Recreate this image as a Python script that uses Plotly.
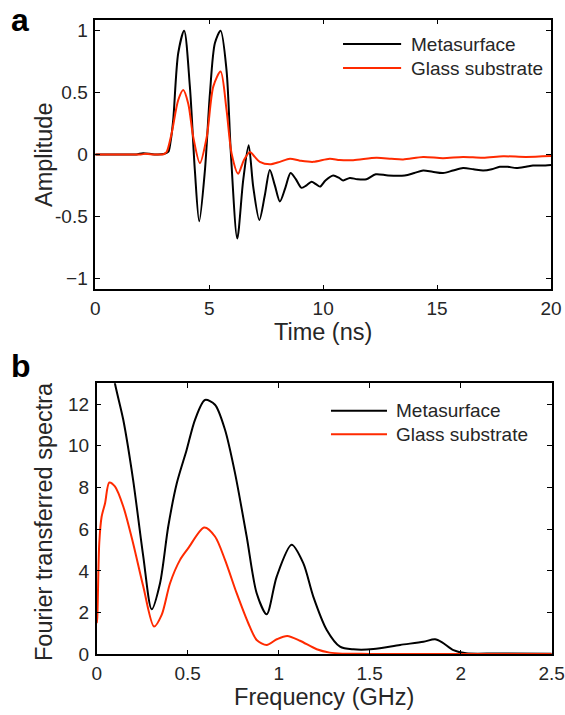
import plotly.graph_objects as go

# ---------------- Panel a: time-domain amplitude ----------------
time_meta = [0, 1.0, 1.8, 2.1, 2.6, 3.0, 3.2, 3.3, 3.42, 3.64, 3.9, 4.15, 4.37, 4.56, 4.81,
             5.03, 5.25, 5.5, 5.76, 5.95, 6.23, 6.49, 6.73, 6.93, 7.2, 7.44, 7.66, 7.88,
             8.1, 8.34, 8.57, 8.8, 9.05, 9.27, 9.49, 9.68, 9.86, 10.1, 10.44, 10.7, 10.88,
             11.17, 11.5, 11.9, 12.31, 12.85, 13.58, 14.0, 14.39, 14.8, 15.26, 15.7, 16.14,
             16.6, 17.02, 17.4, 17.75, 18.1, 18.48, 18.9, 19.21, 19.6, 20.0]
amp_meta = [0, 0, 0.0, 0.01, 0.0, 0.003, 0.02, 0.1, 0.28, 0.82, 1.0, 0.55, -0.13, -0.54, -0.13,
            0.49, 0.9, 1.0, 0.68, 0.01, -0.68, -0.21, 0.075, -0.26, -0.53, -0.33, -0.125, -0.25,
            -0.38, -0.27, -0.15, -0.2, -0.27, -0.25, -0.22, -0.24, -0.26, -0.21, -0.17, -0.19, -0.21,
            -0.19, -0.2, -0.2, -0.16, -0.17, -0.17, -0.15, -0.13, -0.14, -0.15, -0.13, -0.11,
            -0.12, -0.13, -0.12, -0.10, -0.10, -0.11, -0.10, -0.09, -0.09, -0.085]

time_glass = [0, 1.0, 2.0, 2.2, 2.6, 3.0, 3.13, 3.35, 3.64, 3.86, 4.08, 4.3, 4.59, 4.89, 5.18,
              5.5, 5.76, 5.98, 6.27, 6.52, 6.79, 7.0, 7.22, 7.66, 8.1, 8.54, 8.98, 9.56,
              10.29, 10.73, 11.32, 12.34, 13.0, 13.51, 14.39, 15.26, 16.14, 17.02, 17.9,
              18.9, 20.0]
amp_glass = [0, 0, 0.0, 0.005, 0.0, 0.002, 0.02, 0.17, 0.44, 0.52, 0.41, 0.14, -0.07, 0.14, 0.55,
             0.67, 0.36, 0.01, -0.155, -0.046, 0.02, -0.02, -0.06, -0.08, -0.06, -0.035, -0.05, -0.06,
             -0.035, -0.045, -0.046, -0.027, -0.035, -0.04, -0.02, -0.03, -0.02, -0.027, -0.015,
             -0.02, -0.013]

# ---------------- Panel b: Fourier spectra ----------------
freq_meta = [0, 0.05, 0.1, 0.146, 0.2, 0.256, 0.302, 0.348, 0.393, 0.44, 0.494, 0.54, 0.595,
             0.65, 0.705, 0.76, 0.824, 0.879, 0.934, 0.989, 1.071, 1.135, 1.19, 1.264, 1.337,
             1.41, 1.52, 1.667, 1.795, 1.859, 1.9, 1.96, 2.03, 2.2, 2.5]
spec_meta = [18, 15.5, 13.0, 11.25, 8.37, 4.69, 2.16, 3.41, 6.13, 8.2, 9.8, 11.25, 12.2,
             11.97, 10.77, 8.69, 5.65, 2.93, 1.92, 3.73, 5.25, 4.37, 2.77, 1.17, 0.37,
             0.24, 0.25, 0.45, 0.6, 0.72, 0.56, 0.2, 0.05, 0.04, 0.03]

freq_glass = [0, 0.003, 0.014, 0.027, 0.046, 0.069, 0.1, 0.146, 0.2, 0.256, 0.315, 0.357,
              0.403, 0.458, 0.503, 0.591, 0.65, 0.705, 0.769, 0.833, 0.879, 0.934, 0.989,
              1.047, 1.117, 1.209, 1.28, 1.35, 1.5, 2.0, 2.5]
spec_glass = [1.5, 1.73, 5.33, 6.6, 7.25, 8.24, 8.05, 7.09, 5.33, 3.25, 1.33, 1.89,
              3.41, 4.53, 5.09, 6.08, 5.65, 4.53, 2.93, 1.49, 0.69, 0.45, 0.72,
              0.88, 0.65, 0.24, 0.08, 0.03, 0.02, 0.02, 0.01]

series_names = ["Metasurface", "Glass substrate"]
series_colors = ["#000000", "#ff2a00"]

FONT = "Liberation Sans, Arial, sans-serif"
TXT = "#262626"

fig = go.Figure()
fig.add_trace(go.Scatter(x=time_meta, y=amp_meta, mode="lines", name=series_names[0],
                         line=dict(color=series_colors[0], width=2, shape="spline", smoothing=0.8),
                         xaxis="x", yaxis="y", showlegend=False))
fig.add_trace(go.Scatter(x=time_glass, y=amp_glass, mode="lines", name=series_names[1],
                         line=dict(color=series_colors[1], width=2, shape="spline", smoothing=0.8),
                         xaxis="x", yaxis="y", showlegend=False))
fig.add_trace(go.Scatter(x=freq_meta, y=spec_meta, mode="lines", name=series_names[0],
                         line=dict(color=series_colors[0], width=2, shape="spline", smoothing=0.8),
                         xaxis="x2", yaxis="y2", showlegend=False))
fig.add_trace(go.Scatter(x=freq_glass, y=spec_glass, mode="lines", name=series_names[1],
                         line=dict(color=series_colors[1], width=2, shape="spline", smoothing=0.8),
                         xaxis="x2", yaxis="y2", showlegend=False))

W, H = 565, 715

def ax_common():
    return dict(showline=True, linecolor="black", linewidth=1.5, mirror="ticks",
                ticks="inside", ticklen=5, tickwidth=1.2, tickcolor="black",
                showgrid=False, zeroline=False, automargin=False,
                tickfont=dict(family=FONT, size=19, color=TXT))

TFONT = dict(family=FONT, size=23.5, color=TXT)

ya_dom = [1 - 289.3 / H, 1 - 19.6 / H]
yb_dom = [1 - 654.3 / H, 1 - 383.3 / H]

fig.update_layout(
    width=W, height=H,
    margin=dict(l=0, r=0, t=0, b=0),
    paper_bgcolor="white", plot_bgcolor="white",
    font=dict(family=FONT, color=TXT),
    xaxis=dict(domain=[95.3 / W, 551 / W], range=[0, 20],
               tickvals=[0, 5, 10, 15, 20], ticktext=["0", "5", "10", "15", "20"],
               title=dict(text="Time (ns)", font=TFONT, standoff=0),
               anchor="y", ticklabelstandoff=1, **ax_common()),
    yaxis=dict(domain=ya_dom, range=[-1.09, 1.09],
               tickvals=[-1, -0.5, 0, 0.5, 1], ticktext=["\u22121", "-0.5", "0", "0.5", "1"],
               anchor="x", ticklabelstandoff=2, **ax_common()),
    xaxis2=dict(domain=[96.7 / W, 551.7 / W], range=[0, 2.5],
                tickvals=[0, 0.5, 1, 1.5, 2, 2.5], ticktext=["0", "0.5", "1", "1.5", "2", "2.5"],
                title=dict(text="Frequency (GHz)", font=TFONT, standoff=0),
                anchor="y2", ticklabelstandoff=1, **ax_common()),
    yaxis2=dict(domain=yb_dom, range=[0, 13],
                tickvals=[0, 2, 4, 6, 8, 10, 12], ticktext=["0", "2", "4", "6", "8", "10", "12"],
                anchor="x2", ticklabelstandoff=2, **ax_common()),
)

# y-axis titles
fig.add_annotation(xref="paper", yref="paper", x=44 / W, y=1 - 155 / H, text="Amplitude",
                   textangle=-90, showarrow=False, xanchor="center", yanchor="middle", font=TFONT)
fig.add_annotation(xref="paper", yref="paper", x=44 / W, y=1 - 522 / H, text="Fourier transferred spectra",
                   textangle=-90, showarrow=False, xanchor="center", yanchor="middle", font=TFONT)

# custom legends (line samples + labels) in axis-domain coordinates
legend_specs = [
    ("x domain", "y domain", 0.5436, 0.6711, 0.6887, [0.9095, 0.8205]),
    ("x2 domain", "y2 domain", 0.5149, 0.6380, 0.6534, [0.8989, 0.8118]),
]
for xr, yr, x0, x1, xt, rows in legend_specs:
    for name, col, yy in zip(series_names, series_colors, rows):
        fig.add_shape(type="line", xref=xr, yref=yr, x0=x0, x1=x1, y0=yy, y1=yy,
                      line=dict(color=col, width=2))
        fig.add_annotation(xref=xr, yref=yr, x=xt, y=yy, text=name, showarrow=False,
                           xanchor="left", yanchor="middle",
                           font=dict(family=FONT, size=19, color=TXT))

# panel letters
for letter, ypix in [("a", 0), ("b", 346)]:
    fig.add_annotation(xref="paper", yref="paper", x=9 / W, y=1 - ypix / H, text=f"<b>{letter}</b>",
                       showarrow=False, xanchor="left", yanchor="top",
                       font=dict(family=FONT, size=32, color="black"))

fig.write_html("out.html", config={"displayModeBar": False},
               post_script="document.body.style.margin='0';document.body.style.overflow='hidden';")
